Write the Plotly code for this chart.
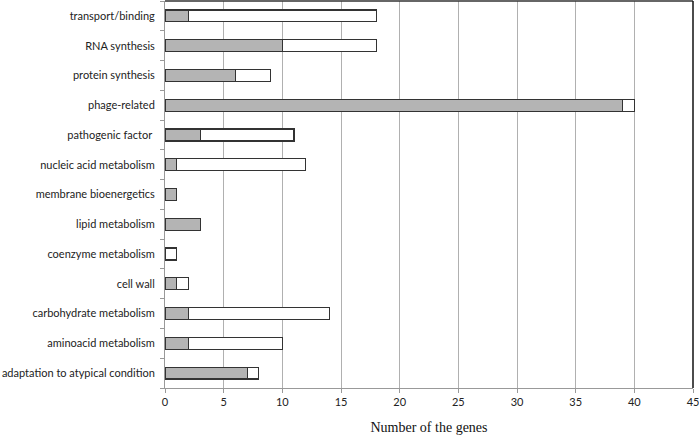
import plotly.graph_objects as go

categories = ["adaptation to atypical condition", "aminoacid metabolism", "carbohydrate metabolism",
              "cell wall", "coenzyme metabolism", "lipid metabolism", "membrane bioenergetics",
              "nucleic acid metabolism", "pathogenic factor ", "phage-related", "protein synthesis",
              "RNA synthesis", "transport/binding"]
gray_values = [7, 2, 2, 1, 0, 3, 1, 1, 3, 39, 6, 10, 2]
white_values = [1, 8, 12, 1, 1, 0, 0, 11, 8, 1, 3, 8, 16]
x_ticks = [0, 5, 10, 15, 20, 25, 30, 35, 40, 45]

fig = go.Figure()
fig.add_trace(go.Bar(y=categories, x=gray_values, orientation="h",
                     marker=dict(color="#b4b4b4", line=dict(color="#333333", width=1.2)),
                     width=0.4, showlegend=False))
fig.add_trace(go.Bar(y=categories, x=white_values, orientation="h",
                     marker=dict(color="#ffffff", line=dict(color="#333333", width=1.2)),
                     width=0.4, showlegend=False))

fig.update_layout(
    barmode="stack",
    width=699, height=443,
    margin=dict(l=165, r=6, t=1, b=55, autoexpand=False),
    paper_bgcolor="white", plot_bgcolor="white",
    font=dict(family="Lato, Open Sans, sans-serif", size=11, color="#222"),
    xaxis=dict(range=[0, 45], tickvals=x_ticks, showgrid=True, gridcolor="#b0b0b0", gridwidth=1,
               zeroline=False, showline=True, linecolor="#999999", linewidth=1,
               ticks="outside", ticklen=4, tickcolor="#999999", automargin=False,
               ticklabeloverflow="allow",
               title=dict(text="Number of the genes", font=dict(family="Liberation Serif, Times New Roman, serif", size=14, color="#111"), standoff=14)),
    yaxis=dict(categoryorder="array", categoryarray=categories, showgrid=False,
               showline=True, linecolor="#999999", linewidth=1, automargin=False,
               ticks="outside", ticklen=4, tickcolor="#999999", tickson="boundaries",
               ticklabelstandoff=7, range=[-0.5, 12.5]),
    shapes=[
        dict(type="line", xref="paper", yref="paper", x0=0, x1=1, y0=1, y1=1, line=dict(color="#333", width=1.5)),
        dict(type="line", xref="paper", yref="paper", x0=1, x1=1, y0=0, y1=1, line=dict(color="#111", width=1.5)),
    ],
)
fig.write_html("out.html", config={"displayModeBar": False},
               post_script="document.body.style.margin='0';document.body.style.overflow='hidden';")
